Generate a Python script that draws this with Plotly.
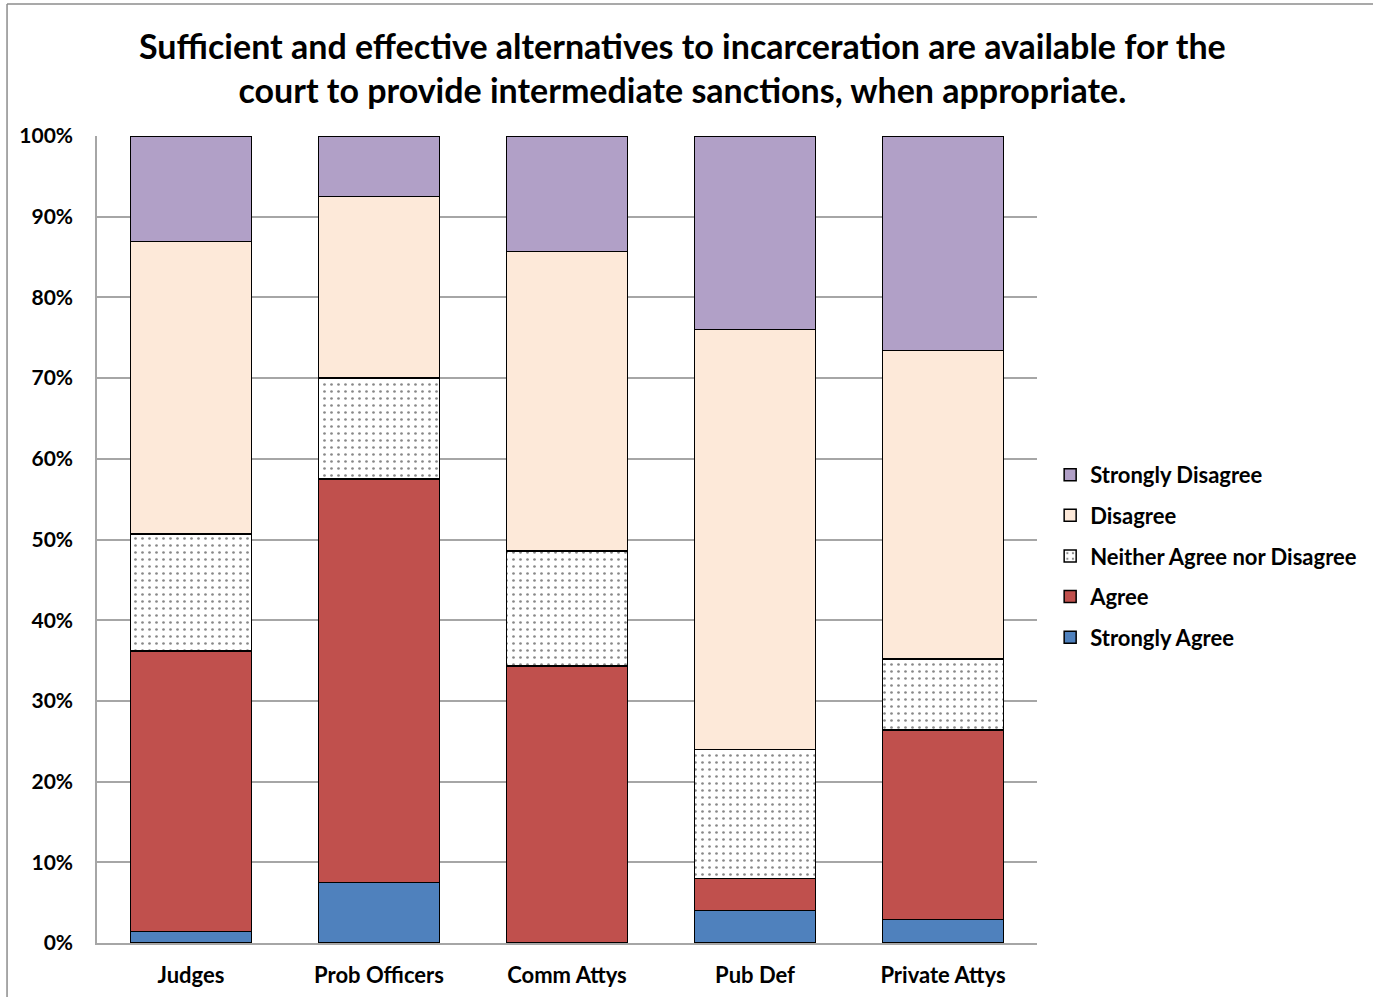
import plotly.graph_objects as go

groups = ["Judges", "Prob Officers", "Comm Attys", "Pub Def", "Private Attys"]

strongly_agree = [1.4, 7.5, 0.0, 4.0, 2.9]
agree = [34.8, 50.0, 34.3, 4.0, 23.5]
neither = [14.5, 12.5, 14.3, 16.0, 8.8]
disagree = [36.2, 22.5, 37.1, 52.0, 38.2]
strongly_disagree = [13.1, 7.5, 14.3, 24.0, 26.6]

series = [
    ("Strongly Agree", strongly_agree, "#4F81BD", None),
    ("Agree", agree, "#C0504D", None),
    ("Neither Agree nor Disagree", neither, "#FFFFFF", "."),
    ("Disagree", disagree, "#FDE9D9", None),
    ("Strongly Disagree", strongly_disagree, "#B1A0C7", None),
]

FONT = "Lato"

fig = go.Figure()
for i, (name, vals, color, shape) in enumerate(series):
    marker = dict(color=color, line=dict(color="#000000", width=1.5))
    if shape:
        marker["pattern"] = dict(shape=shape, fgcolor="#111111", bgcolor="#FFFFFF",
                                 size=7, solidity=0.12)
    fig.add_trace(go.Bar(
        name=name, x=groups, y=vals, marker=marker,
        legendgroup=name, legendrank=len(series) - i, width=0.645,
    ))

fig.update_layout(
    barmode="stack",
    width=1373, height=997,
    paper_bgcolor="white", plot_bgcolor="white",
    margin=dict(l=97, r=336, t=136, b=54, autoexpand=False),
    font=dict(family=FONT, color="#000000"),
    title=dict(
        text="Sufficient and effective alternatives to incarceration are available for the<br>"
             "court to provide intermediate sanctions, when appropriate.",
        x=0.497, xanchor="center", y=0.941, yanchor="middle",
        font=dict(family=FONT, size=34, weight="bold", color="#000000"),
    ),
    legend=dict(
        x=1.014, xanchor="left", y=0.4796, yanchor="middle",
        traceorder="grouped", tracegroupgap=9,
        font=dict(family=FONT, size=22, weight="bold"),
        itemwidth=30,
    ),
    showlegend=True,
)

fig.update_yaxes(
    range=[0, 100], tickvals=list(range(0, 101, 10)),
    ticktext=[f"{v}%" for v in range(0, 101, 10)],
    showgrid=True, gridcolor="#A6A6A6", gridwidth=1.5,
    showline=True, linecolor="#A6A6A6", linewidth=1.5,
    ticks="", ticklabelstandoff=18, automargin=False,
    tickfont=dict(family=FONT, size=21, weight="bold"),
    zeroline=False,
)
fig.update_xaxes(
    showline=True, linecolor="#A6A6A6", linewidth=1.5,
    ticks="", ticklabelstandoff=12, automargin=False,
    tickfont=dict(family=FONT, size=22, weight="bold"),
)

# outer frame lines along the top and left edges
fig.add_shape(type="line", xref="paper", yref="paper",
              x0=-0.0957, x1=1.36, y0=1.1636, y1=1.1636,
              line=dict(color="#8C8C8C", width=1.5))
fig.add_shape(type="line", xref="paper", yref="paper",
              x0=-0.0957, x1=-0.0957, y0=1.1636, y1=-0.07,
              line=dict(color="#8C8C8C", width=1.5))

fig.write_html("out.html")
